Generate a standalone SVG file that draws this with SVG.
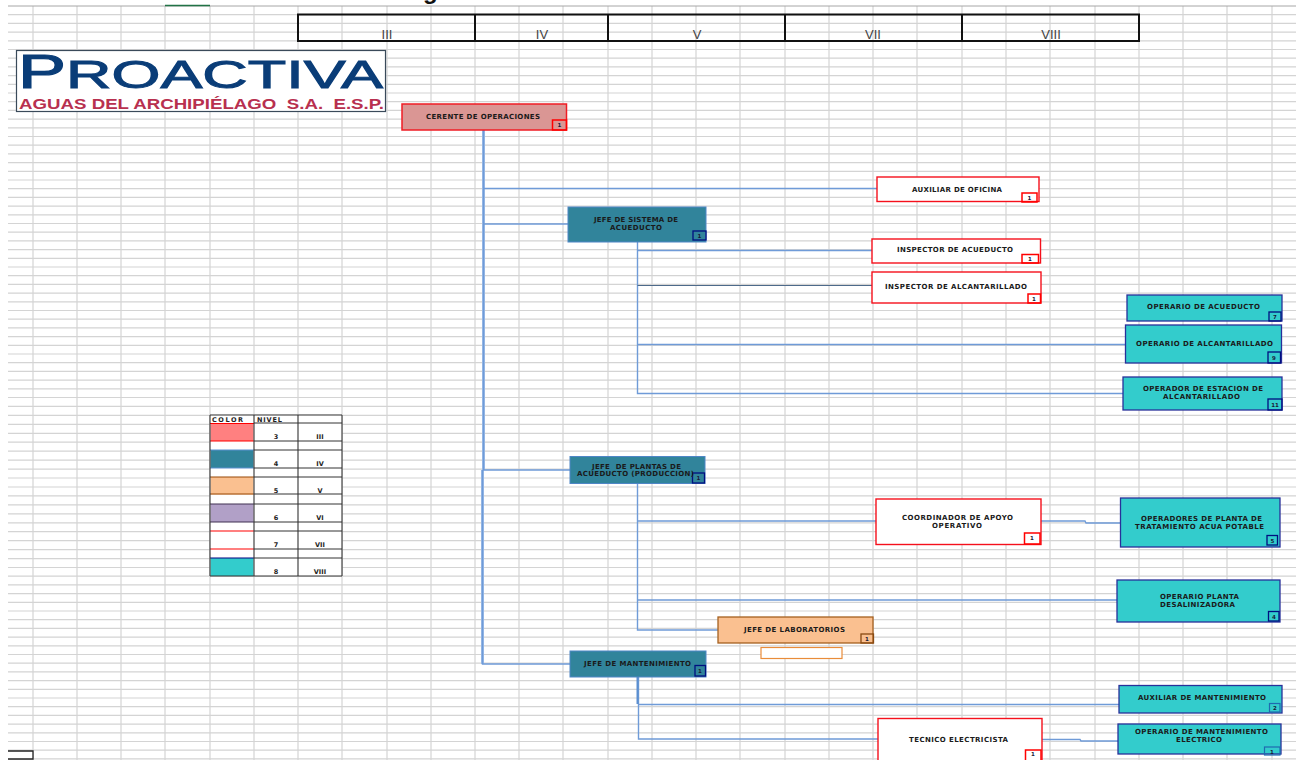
<svg xmlns="http://www.w3.org/2000/svg" width="1304" height="760" viewBox="0 0 1304 760">
<style>
text{font-family:"DejaVu Sans","Liberation Sans",sans-serif}
.t{font-size:7px;font-weight:700;fill:#1a1a1a}
.b{font-size:5.500px;font-weight:700;text-anchor:middle;fill:#1a1a3a}
.l3{fill:#da9694;stroke:#f01c24;stroke-width:1.5}
.l4{fill:#31849b;stroke:#4f86c6;stroke-width:1}
.l5{fill:#fac090;stroke:#a5601f;stroke-width:1.3}
.l7{fill:#fff;stroke:#f5101c;stroke-width:1.4}
.l8{fill:#33cccc;stroke:#28309a;stroke-width:1.3}
.br{fill:none;stroke:#f00;stroke-width:1.5}
.bd{fill:none;stroke:#000f80;stroke-width:1.3}
.bo{fill:none;stroke:#8a4a12;stroke-width:1.3}
.c{fill:none;stroke:#6f9bd8;stroke-width:1.4}
.g{fill:none;stroke:#d4d4d4;stroke-width:1.2}
.k{fill:none;stroke:#111;stroke-width:2}
.hd{font-family:"Liberation Sans",sans-serif;font-size:13px;fill:#444;text-anchor:middle}
.lg{fill:none;stroke:#333;stroke-width:1}
.lt{font-size:6.500px;font-weight:700;fill:#222}
.lm{font-size:6.500px;font-weight:700;fill:#222;text-anchor:middle}
</style>
<rect width="1304" height="760" fill="#fff"/>
<g id="grid">
<path class="g" d="M8 14.7H1296M8 23.4H1296M8 32.1H1296M8 40.8H1296M8 49.5H1296M8 58.2H1296M8 66.9H1296M8 75.6H1296M8 84.3H1296M8 93H1296M8 101.7H1296M8 110.4H1296M8 119.1H1296M8 127.8H1296M8 136.5H1296M8 145.2H1296M8 153.9H1296M8 162.6H1296M8 171.3H1296M8 180H1296M8 188.7H1296M8 197.4H1296M8 206.1H1296M8 214.8H1296M8 223.5H1296M8 232.2H1296M8 240.9H1296M8 249.6H1296M8 258.3H1296M8 267H1296M8 275.7H1296M8 284.4H1296M8 293.1H1296M8 301.8H1296M8 310.5H1296M8 319.2H1296M8 327.9H1296M8 336.6H1296M8 345.3H1296M8 354H1296M8 362.7H1296M8 371.4H1296M8 380.1H1296M8 388.8H1296M8 397.5H1296M8 406.4H1296M8 415.4H1296M8 424.3H1296M8 433.3H1296M8 442.2H1296M8 451.2H1296M8 460.1H1296M8 469.1H1296M8 478H1296M8 487H1296M8 495.9H1296M8 504.9H1296M8 513.8H1296M8 522.8H1296M8 531.7H1296M8 540.7H1296M8 549.6H1296M8 558.6H1296M8 567.5H1296M8 576.2H1296M8 584.9H1296M8 593.6H1296M8 602.3H1296M8 611H1296M8 619.7H1296M8 628.4H1296M8 637.1H1296M8 645.8H1296M8 654.5H1296M8 663.2H1296M8 671.9H1296M8 680.6H1296M8 689.3H1296M8 698H1296M8 706.7H1296M8 715.4H1296M8 724.1H1296M8 732.8H1296M8 741.5H1296M8 750.2H1296M8 758.9H1296"/>
<path class="g" d="M33 6V760M77 6V760M121 6V760M165 6V760M210 6V760M254 6V760M298 6V760M342 6V760M387 6V760M431 6V760M475 6V760M519 6V760M563 6V760M608 6V760M652 6V760M696 6V760M740 6V760M785 6V760M829 6V760M873 6V760M917 6V760M962 6V760M1006 6V760M1050 6V760M1095 6V760M1139 6V760M1183 6V760M1227 6V760M1272 6V760"/>
<path d="M8 6H1296" fill="none" stroke="#a6a6a6" stroke-width="1"/>
<path d="M165 5.500H210" fill="none" stroke="#217346" stroke-width="1.500"/>
<path d="M8 751H33V759H8" fill="#fff" stroke="#222" stroke-width="1.300"/>
</g>
<text x="423" y="-1" font-size="24" font-weight="700" style="font-family:'Liberation Sans',sans-serif" fill="#111">g</text>
<g id="header">
<rect x="298" y="14.500" width="841" height="26.500" fill="#fff" class="k"/>
<path class="k" d="M475 14.500V41M608 14.500V41M785 14.500V41M962 14.500V41"/>
<text class="hd" x="387" y="39">III</text>
<text class="hd" x="542" y="39">IV</text>
<text class="hd" x="697" y="39">V</text>
<text class="hd" x="873" y="39">VII</text>
<text class="hd" x="1051" y="39">VIII</text>
</g>
<g id="logo">
<rect x="16.500" y="50.500" width="369" height="61" fill="#fff" stroke="#3a4a5a" stroke-width="1.200"/>
<text x="18" y="88" font-size="48" fill="#0a3d78" stroke="#0a3d78" stroke-width="1.200" textLength="48" lengthAdjust="spacingAndGlyphs" style="font-family:'Liberation Sans',sans-serif">P</text>
<text x="66" y="88" font-size="39" fill="#0a3d78" stroke="#0a3d78" stroke-width="1" textLength="317" lengthAdjust="spacingAndGlyphs" style="font-family:'Liberation Sans',sans-serif">ROACTIVA</text>
<text x="19" y="108.500" font-size="15.500" font-weight="700" fill="#b8304f" textLength="365" lengthAdjust="spacingAndGlyphs" xml:space="preserve" style="font-family:'Liberation Sans',sans-serif">AGUAS DEL ARCHIPIÉLAGO  S.A.  E.S.P.</text>
</g>
<g id="connectors">
<path d="M483.500 130V470M482.500 470V664" fill="none" stroke="#9dbce8" stroke-width="3"/>
<path class="c" d="M483.500 130V470H570M482.500 470V664H570M483.500 188.500H877M483.500 224H568"/>
<path class="c" d="M637.500 242V393.500H1123M637.500 250.500H872M637.500 344.500H1125"/>
<path d="M637.500 285.500H872" fill="none" stroke="#4d6a8a" stroke-width="1.200"/>
<path class="c" d="M637.500 484V630H718M637.500 521H876M637.500 600H1117"/>
<path class="c" d="M1041 521H1085L1086 523H1120"/>
<path class="c" d="M638.500 677V739H878M638.500 704.500H1119M1042 739.500H1080L1081 741H1118"/>
<path d="M637.500 677V704" fill="none" stroke="#5b8fd0" stroke-width="2"/>
</g>
<g id="gerente"><rect class="l3" x="402" y="104" width="164.500" height="26"/><rect class="br" x="552.500" y="120" width="14" height="10"/><text class="b" x="559.500" y="127">1</text><text class="t" x="426" y="119" textLength="114">CERENTE DE OPERACIONES</text></g>
<g id="auxiliar-oficina"><rect class="l7" x="877" y="177" width="162" height="24.500"/><rect class="br" x="1022" y="193" width="15" height="9"/><text class="b" x="1029.500" y="199.500">1</text><text class="t" x="912" y="191.500" textLength="90">AUXILIAR DE OFICINA</text></g>
<g id="jefe-acueducto"><rect class="l4" x="568" y="207" width="138" height="35"/><rect class="bd" x="693" y="231" width="13" height="9"/><text class="b" x="699.500" y="237.500">1</text><text class="t" x="594" y="221.500" textLength="84">JEFE DE SISTEMA DE</text><text class="t" x="610" y="230" textLength="52">ACUEDUCTO</text></g>
<g id="inspector-acueducto"><rect class="l7" x="872" y="239" width="168.500" height="24"/><rect class="br" x="1022" y="254.500" width="16.500" height="8.500"/><text class="b" x="1030" y="261">1</text><text class="t" x="897" y="252" textLength="116">INSPECTOR DE ACUEDUCTO</text></g>
<g id="inspector-alcantarillado"><rect class="l7" x="872" y="272" width="169" height="31"/><rect class="br" x="1028" y="294" width="12.500" height="9"/><text class="b" x="1034" y="300.500">1</text><text class="t" x="885" y="288.500" textLength="142">INSPECTOR DE ALCANTARILLADO</text></g>
<g id="operario-acueducto"><rect class="l8" x="1127" y="295" width="155" height="26"/><rect class="bd" x="1269" y="312" width="12" height="9"/><text class="b" x="1275" y="318.500">7</text><text class="t" x="1147" y="309" textLength="113">OPERARIO DE ACUEDUCTO</text></g>
<g id="operario-alcantarillado"><rect class="l8" x="1125.500" y="325" width="156" height="38"/><rect class="bd" x="1268" y="352" width="12.500" height="11"/><text class="b" x="1274" y="359.500">9</text><text class="t" x="1136" y="345.500" textLength="137">OPERARIO DE ALCANTARILLADO</text></g>
<g id="operador-estacion"><rect class="l8" x="1123" y="377" width="159" height="33"/><rect class="bd" x="1268" y="399" width="14" height="11"/><text class="b" x="1275" y="406.500">11</text><text class="t" x="1143" y="391" textLength="120">OPERADOR DE ESTACION DE</text><text class="t" x="1163" y="399" textLength="77">ALCANTARILLADO</text></g>
<g id="jefe-plantas"><rect class="l4" x="570" y="456.500" width="135" height="27"/><rect class="bd" x="692.500" y="473" width="12" height="10"/><text class="b" x="698.500" y="480">1</text><text class="t" x="592" y="468.500" textLength="89" xml:space="preserve">JEFE  DE PLANTAS DE</text><text class="t" x="577" y="476" textLength="117">ACUEDUCTO (PRODUCCION)</text></g>
<g id="coordinador"><rect class="l7" x="876" y="499" width="165" height="45.500"/><rect class="br" x="1024.500" y="533" width="15.500" height="11"/><text class="b" x="1032" y="540">1</text><text class="t" x="902" y="520" textLength="111">COORDINADOR DE APOYO</text><text class="t" x="932" y="528" textLength="50">OPERATIVO</text></g>
<g id="operadores-planta"><rect class="l8" x="1120.500" y="498" width="159.500" height="49"/><rect class="bd" x="1267" y="535.500" width="10.500" height="9.500"/><text class="b" x="1272.500" y="542.500">5</text><text class="t" x="1141" y="521" textLength="121">OPERADORES DE PLANTA DE</text><text class="t" x="1135" y="528.500" textLength="129">TRATAMIENTO ACUA POTABLE</text></g>
<g id="operario-planta"><rect class="l8" x="1117" y="580" width="163" height="42"/><rect class="bd" x="1268.500" y="611.500" width="10.500" height="9.500"/><text class="b" x="1274" y="618.500">4</text><text class="t" x="1160" y="599" textLength="79">OPERARIO PLANTA</text><text class="t" x="1160" y="607" textLength="75">DESALINIZADORA</text></g>
<g id="jefe-laboratorios"><rect class="l5" x="718" y="617" width="155" height="26"/><rect class="bo" x="861" y="634" width="12.500" height="9"/><text class="b" x="867" y="640.500">1</text><text class="t" x="744" y="631.500" textLength="101">JEFE DE LABORATORIOS</text></g>
<g id="caja-vacia"><rect x="761" y="647.500" width="81" height="11" fill="#fff" stroke="#e98c3a" stroke-width="1.200"/></g>
<g id="jefe-mantenimiento"><rect class="l4" x="570" y="651" width="136" height="26"/><rect class="bd" x="695" y="665.500" width="10.500" height="10.500"/><text class="b" x="700" y="673">1</text><text class="t" x="584" y="665.500" textLength="107">JEFE DE MANTENIMIENTO</text></g>
<g id="auxiliar-mantenimiento"><rect class="l8" x="1119" y="685.500" width="163" height="27.500"/><rect x="1269.500" y="703.500" width="10.500" height="8.500" fill="none" stroke="#1f6ab0" stroke-width="1.200"/><text class="b" x="1275" y="710">2</text><text class="t" x="1138" y="700" textLength="128">AUXILIAR DE MANTENIMIENTO</text></g>
<g id="operario-mantenimiento"><rect class="l8" x="1118" y="724" width="163" height="30"/><rect x="1264.500" y="747" width="15.500" height="8" fill="none" stroke="#1f6ab0" stroke-width="1.200"/><text class="b" x="1272" y="753.500">1</text><text class="t" x="1135" y="734" textLength="133">OPERARIO DE MANTENIMIENTO</text><text class="t" x="1176" y="742" textLength="46">ELECTRICO</text></g>
<g id="tecnico"><rect class="l7" x="878" y="718.500" width="164" height="50"/><rect class="br" x="1025.500" y="750" width="15.500" height="15"/><text class="b" x="1033" y="755.500">1</text><text class="t" x="909" y="742" textLength="99">TECNICO ELECTRICISTA</text></g>
<g id="leyenda">
<rect x="210" y="415" width="132" height="161" fill="#fff"/>
<rect x="210.500" y="423" width="43" height="18" fill="#ff8080"/>
<rect x="210.500" y="450" width="43" height="18" fill="#31849b"/>
<rect x="210.500" y="477" width="43" height="17.500" fill="#fac090"/>
<rect x="210.500" y="504" width="43" height="18" fill="#b1a0c7"/>
<rect x="210.500" y="558" width="43" height="18" fill="#33cccc"/>
<path class="lg" d="M254 423H342M254 441H342M254 450H342M254 468H342M254 477H342M254 494H342M254 504H342M254 522H342M254 531H342M254 549H342M254 558H342M210 576H342M210 415H342"/>
<path d="M210 423.500H254M210 441H254M210 531H254M210 549H254" fill="none" stroke="#f00" stroke-width="1.200"/>
<path d="M210 450H254M210 468H254" fill="none" stroke="#5b8fd0" stroke-width="1.200"/>
<path d="M210 477H254M210 494H254" fill="none" stroke="#984807" stroke-width="1.200"/>
<path d="M210 504H254M210 522H254" fill="none" stroke="#403152" stroke-width="1.200"/>
<path d="M210 558H254" fill="none" stroke="#000080" stroke-width="1.200"/>
<path d="M210 415V576M254 415V576M298 415V576M342 415V576" fill="none" stroke="#333" stroke-width="1.100"/>
<text class="lt" x="212" y="422" textLength="31">COLOR</text>
<text class="lt" x="257" y="422" textLength="25">NIVEL</text>
<text class="lm" x="276" y="439">3</text><text class="lm" x="320" y="439">III</text>
<text class="lm" x="276" y="466">4</text><text class="lm" x="320" y="466">IV</text>
<text class="lm" x="276" y="493">5</text><text class="lm" x="320" y="493">V</text>
<text class="lm" x="276" y="520">6</text><text class="lm" x="320" y="520">VI</text>
<text class="lm" x="276" y="547">7</text><text class="lm" x="320" y="547">VII</text>
<text class="lm" x="276" y="574">8</text><text class="lm" x="320" y="574">VIII</text>
</g>
</svg>
